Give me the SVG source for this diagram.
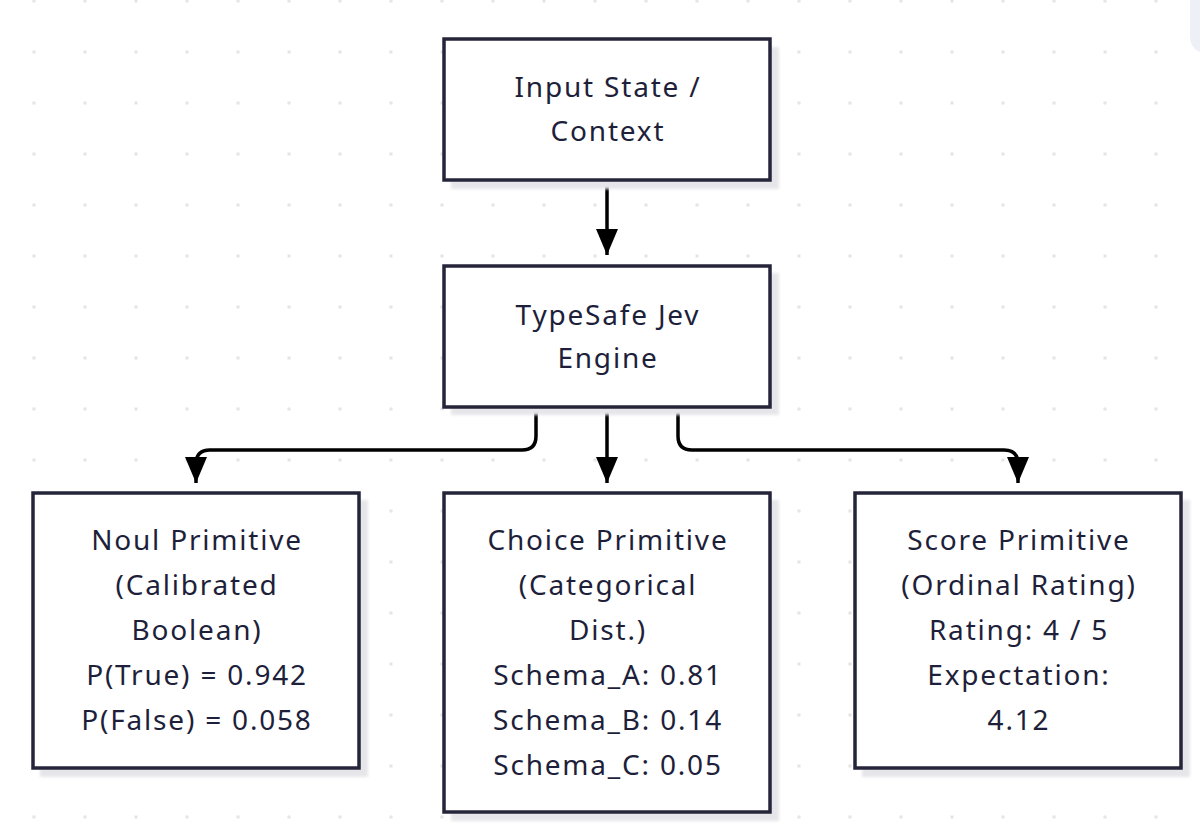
<svg xmlns="http://www.w3.org/2000/svg" width="1200" height="838" viewBox="0 0 1200 838">
  <defs>
    <pattern id="dots" x="32.5" y="-0.5" width="51" height="51" patternUnits="userSpaceOnUse">
      <rect x="0" y="0" width="3" height="3" fill="#e4e4e8"/>
    </pattern>
    <filter id="blur" x="-5%" y="-5%" width="110%" height="110%">
      <feGaussianBlur stdDeviation="1.5"/>
    </filter>
    <marker id="arrow" viewBox="0 0 26 22" refX="26" refY="11" markerWidth="26" markerHeight="22" markerUnits="userSpaceOnUse" orient="auto">
      <path d="M0,0 L26,11 L0,22 Z" fill="#000"/>
    </marker>
  </defs>
  <style>
    .box { fill: #ffffff; stroke: #25253a; stroke-width: 3.5; }
    .shadow { fill: #e6e6ea; filter: url(#blur); }
    .label { font-family: "Noto Sans", "DejaVu Sans", sans-serif; font-size: 28px; letter-spacing: 1.8px; fill: #1e1f3a; text-anchor: middle; }
    .edge { fill: none; stroke: #000; stroke-width: 3.5; marker-end: url(#arrow); }
  </style>
  <rect width="1200" height="838" fill="#ffffff"/>
  <rect width="1200" height="838" fill="url(#dots)"/>
  <path d="M1190,0 L1200,0 L1200,52 Q1190,48 1190,36 Z" fill="#eef0f7"/>

  <g id="connectors">
    <path class="edge" d="M607,181 L607,255"/>
    <path class="edge" d="M536,408 L536,436 Q536,450 522,450 L210,450 Q196,450 196,464 L196,483"/>
    <path class="edge" d="M607,408 L607,483"/>
    <path class="edge" d="M678,408 L678,436 Q678,450 692,450 L1004,450 Q1018,450 1018,464 L1018,483"/>
  </g>

  <g id="node-input">
    <rect class="shadow" x="451" y="47" width="328" height="142"/>
    <rect class="box" x="444" y="39" width="326" height="141"/>
    <text class="label" x="608" y="97">Input State /</text>
    <text class="label" x="608" y="141">Context</text>
  </g>

  <g id="node-engine">
    <rect class="shadow" x="451" y="273" width="328" height="142"/>
    <rect class="box" x="444" y="266" width="326" height="141"/>
    <text class="label" x="608" y="325">TypeSafe Jev</text>
    <text class="label" x="608" y="368">Engine</text>
  </g>

  <g id="node-noul">
    <rect class="shadow" x="40" y="500" width="328" height="277"/>
    <rect class="box" x="33" y="493" width="326" height="275"/>
    <text class="label" x="197" y="550">Noul Primitive</text>
    <text class="label" x="197" y="595">(Calibrated</text>
    <text class="label" x="197" y="640">Boolean)</text>
    <text class="label" x="197" y="685">P(True) = 0.942</text>
    <text class="label" x="197" y="730">P(False) = 0.058</text>
  </g>

  <g id="node-choice">
    <rect class="shadow" x="451" y="500" width="328" height="321"/>
    <rect class="box" x="444" y="493" width="326" height="319"/>
    <text class="label" x="608" y="550">Choice Primitive</text>
    <text class="label" x="608" y="595">(Categorical</text>
    <text class="label" x="608" y="640">Dist.)</text>
    <text class="label" x="608" y="685">Schema_A: 0.81</text>
    <text class="label" x="608" y="730">Schema_B: 0.14</text>
    <text class="label" x="608" y="775">Schema_C: 0.05</text>
  </g>

  <g id="node-score">
    <rect class="shadow" x="862" y="500" width="328" height="277"/>
    <rect class="box" x="855" y="493" width="326" height="275"/>
    <text class="label" x="1019" y="550">Score Primitive</text>
    <text class="label" x="1019" y="595">(Ordinal Rating)</text>
    <text class="label" x="1019" y="640">Rating: 4 / 5</text>
    <text class="label" x="1019" y="685">Expectation:</text>
    <text class="label" x="1019" y="730">4.12</text>
  </g>
</svg>
